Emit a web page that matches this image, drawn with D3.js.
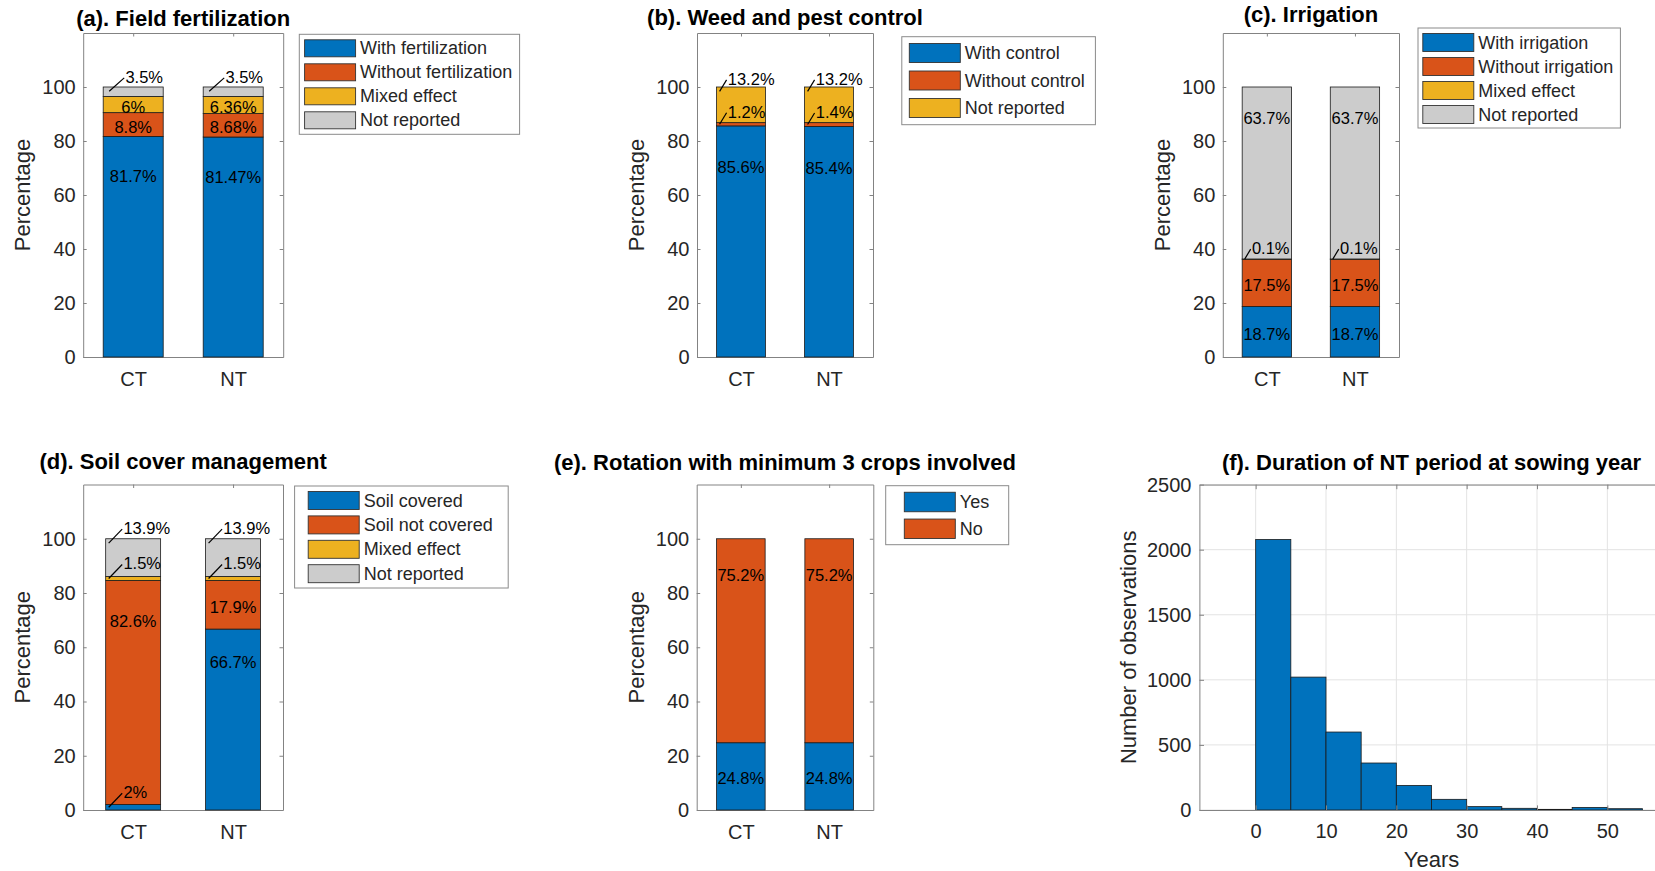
<!DOCTYPE html>
<html><head><meta charset="utf-8">
<script src="https://cdn.jsdelivr.net/npm/d3@7"></script>
<style>
body{margin:0;background:#fff}
svg text{font-family:"Liberation Sans",Arial,Helvetica,sans-serif}
</style>
</head><body><svg id="chart" width="1655" height="871"></svg>
<script>
// ---------------- DATA ----------------
const categories = ["CT", "NT"];
const percentTicks = [0, 20, 40, 60, 80, 100];

const fertSeries = ["With fertilization", "Without fertilization", "Mixed effect", "Not reported"];
const fertCT = [81.7, 8.8, 6, 3.5];
const fertNT = [81.47, 8.68, 6.36, 3.5];

const weedSeries = ["With control", "Without control", "Not reported"];
const weedCT = [85.6, 1.2, 13.2];
const weedNT = [85.4, 1.4, 13.2];

const irrSeries = ["With irrigation", "Without irrigation", "Mixed effect", "Not reported"];
const irrCT = [18.7, 17.5, 0.1, 63.7];
const irrNT = [18.7, 17.5, 0.1, 63.7];

const soilSeries = ["Soil covered", "Soil not covered", "Mixed effect", "Not reported"];
const soilCT = [2, 82.6, 1.5, 13.9];
const soilNT = [66.7, 17.9, 1.5, 13.9];

const rotSeries = ["Yes", "No"];
const rotCT = [24.8, 75.2];
const rotNT = [24.8, 75.2];

const histBinStarts = [0, 5, 10, 15, 20, 25, 30, 35, 40, 45, 50];
const histCounts = [2078, 1021, 599, 361, 189, 82, 26, 13, 5, 20, 10];
const histBinWidth = 5;
const yearTicks = [0, 10, 20, 30, 40, 50];
const countTicks = [0, 500, 1000, 1500, 2000, 2500];

const seriesColors = ["#0072BD", "#D95319", "#EDB120", "#CCCCCC"];

// ---------------- LAYOUT / STYLE ----------------
const AXIS_COLOR = "#838383";
const TEXT_COLOR = "#262626";
const FONT = '"Liberation Sans",Arial,Helvetica,sans-serif';

const panels = [
  {title: "(a). Field fertilization", series: fertSeries, values: [fertCT, fertNT],
   x0: 83.2, x1: 283.2, y0: 33, y1: 357, titleY: 25.5, barW: 0.6,
   legend: {x: 299.3, y: 34.3, w: 220.3, h: 100, first: 14, pitch: 24, sw: 5.3, swH: 17},
   lead: {off: 6, dx: 15, dy: 13.4}},
  {title: "(b). Weed and pest control", series: weedSeries, values: [weedCT, weedNT],
   x0: 697, x1: 873, y0: 33, y1: 357, titleY: 24.8, barW: 0.555,
   legend: {x: 901.8, y: 36.7, w: 193.6, h: 88, first: 16.3, pitch: 27.5, sw: 7.5, swH: 19},
   lead: {off: 3, dx: 7, dy: 11.5}},
  {title: "(c). Irrigation", series: irrSeries, values: [irrCT, irrNT],
   x0: 1222.8, x1: 1399, y0: 33, y1: 357, titleY: 22.2, barW: 0.56,
   legend: {x: 1418, y: 28, w: 202.4, h: 100, first: 14.5, pitch: 24, sw: 4.8, swH: 18},
   lead: {off: 2.5, dx: 6, dy: 10}},
  {title: "(d). Soil cover management", series: soilSeries, values: [soilCT, soilNT],
   x0: 83.2, x1: 283, y0: 484.5, y1: 810, titleY: 469, barW: 0.55,
   legend: {x: 294.6, y: 486, w: 213.6, h: 102, first: 14.5, pitch: 24.4, sw: 13.6, swH: 18},
   lead: {off: 3, dx: 13.5, dy: 14}},
  {title: "(e). Rotation with minimum 3 crops involved", series: rotSeries, values: [rotCT, rotNT],
   x0: 696.7, x1: 873.3, y0: 484.5, y1: 810, titleY: 470.4, barW: 0.55,
   legend: {x: 885.7, y: 485.7, w: 123, h: 59, first: 16.3, pitch: 26.8, sw: 18.6, swH: 19.5},
   lead: {off: 3, dx: 7, dy: 12}}
];

const svg = d3.select("#chart");
svg.append("rect").attr("width", 1655).attr("height", 871).attr("fill", "#fff");

function styleAxis(g, fontSize) {
  g.attr("font-family", FONT).attr("font-size", fontSize);
  g.selectAll("path.domain").attr("stroke", AXIS_COLOR).attr("stroke-width", 1);
  g.selectAll(".tick line").attr("stroke", AXIS_COLOR).attr("stroke-width", 1);
  g.selectAll(".tick text").attr("fill", TEXT_COLOR);
}

function drawBarPanel(p) {
  const g = svg.append("g");
  const x = d3.scaleLinear().domain([0.5, 2.5]).range([p.x0, p.x1]);
  const y = d3.scaleLinear().domain([0, 120]).range([p.y1, p.y0]);
  const tick = 3.5;

  const rows = categories.map((c, i) => {
    const o = {cat: c, idx: i + 1};
    p.series.forEach((s, j) => o[s] = p.values[i][j]);
    return o;
  });
  const stacked = d3.stack().keys(p.series)(rows);

  // axes box
  g.append("g").attr("transform", `translate(0,${p.y1})`)
    .call(d3.axisBottom(x).tickValues([1, 2]).tickFormat((d) => categories[d - 1])
      .tickSizeInner(-tick).tickSizeOuter(0).tickPadding(14.8))
    .call(a => styleAxis(a, 20));
  g.append("g").attr("transform", `translate(0,${p.y0})`)
    .call(d3.axisTop(x).tickValues([1, 2]).tickFormat("").tickSizeInner(-tick).tickSizeOuter(0))
    .call(a => styleAxis(a, 20));
  g.append("g").attr("transform", `translate(${p.x0},0)`)
    .call(d3.axisLeft(y).tickValues(percentTicks).tickSizeInner(-tick).tickSizeOuter(0).tickPadding(7.5))
    .call(a => styleAxis(a, 20));
  g.append("g").attr("transform", `translate(${p.x1},0)`)
    .call(d3.axisRight(y).tickValues(percentTicks).tickFormat("").tickSizeInner(-tick).tickSizeOuter(0))
    .call(a => styleAxis(a, 20));

  // bars
  const bw = x(p.barW) - x(0);
  stacked.forEach((layer, j) => {
    g.selectAll(null).data(layer).join("rect")
      .attr("x", d => x(d.data.idx) - bw / 2)
      .attr("width", bw)
      .attr("y", d => y(d[1]))
      .attr("height", d => y(d[0]) - y(d[1]))
      .attr("fill", seriesColors[j])
      .attr("stroke", "#1a1a1a").attr("stroke-width", 0.8);
  });

  // value labels
  const nL = p.series.length;
  stacked.forEach((layer, j) => {
    layer.forEach(d => {
      const v = d[1] - d[0];
      const txt = String(+v.toFixed(2)) + "%";
      const cx = x(d.data.idx);
      const isTop = j === nL - 1;
      const callout = v < 5 || (isTop && v < 15);
      if (callout) {
        const startV = isTop ? d[1] - 1.6 : (d[0] + d[1]) / 2;
        const sx = cx - bw / 2 + p.lead.off, sy = y(startV);
        const ex = sx + p.lead.dx, ey = sy - p.lead.dy;
        g.append("line").attr("x1", sx).attr("y1", sy).attr("x2", ex).attr("y2", ey)
          .attr("stroke", "#000").attr("stroke-width", 1.2);
        g.append("text").attr("x", ex + 1.2).attr("y", ey + 5)
          .attr("font-size", 16.5).attr("fill", "#000").text(txt);
      } else {
        const yy = v > 30 ? y(d[0] + 0.82 * v) : y((d[0] + d[1]) / 2) + 2;
        g.append("text").attr("x", cx).attr("y", yy)
          .attr("text-anchor", "middle").attr("dominant-baseline", "central")
          .attr("font-size", 16.5).attr("fill", "#000").text(txt);
      }
    });
  });

  // y label
  g.append("text")
    .attr("transform", `translate(${p.x0 - 53},${(p.y0 + p.y1) / 2}) rotate(-90)`)
    .attr("text-anchor", "middle").attr("font-size", 22).attr("fill", TEXT_COLOR)
    .text("Percentage");

  // title
  g.append("text").attr("x", (p.x0 + p.x1) / 2).attr("y", p.titleY)
    .attr("text-anchor", "middle").attr("font-size", 22).attr("font-weight", "bold")
    .attr("fill", "#000").text(p.title);

  // legend
  const L = p.legend;
  const lg = g.append("g");
  lg.append("rect").attr("x", L.x).attr("y", L.y).attr("width", L.w).attr("height", L.h)
    .attr("fill", "#fff").attr("stroke", "#8a8a8a").attr("stroke-width", 1);
  p.series.forEach((s, j) => {
    const cy = L.y + L.first + j * L.pitch;
    lg.append("rect").attr("x", L.x + L.sw).attr("y", cy - L.swH / 2)
      .attr("width", 51).attr("height", L.swH)
      .attr("fill", seriesColors[j]).attr("stroke", "#333").attr("stroke-width", 0.9);
    lg.append("text").attr("x", L.x + L.sw + 55.5).attr("y", cy)
      .attr("dominant-baseline", "central").attr("font-size", 18).attr("fill", TEXT_COLOR)
      .text(s);
  });
}

panels.forEach(drawBarPanel);

// ---------------- (f) histogram ----------------
(function () {
  const p = {x0: 1199.4, x1: 1663.6, y0: 484.6, y1: 810};
  const g = svg.append("g");
  const x = d3.scaleLinear().domain([-8, 58]).range([p.x0, p.x1]);
  const y = d3.scaleLinear().domain([0, 2500]).range([p.y1, p.y0]);
  const tick = 4.6;

  // grid
  g.append("g").selectAll("line").data(yearTicks).join("line")
    .attr("x1", d => x(d)).attr("x2", d => x(d)).attr("y1", p.y0).attr("y2", p.y1)
    .attr("stroke", "#e3e3e3").attr("stroke-width", 1);
  g.append("g").selectAll("line").data(countTicks).join("line")
    .attr("x1", p.x0).attr("x2", p.x1).attr("y1", d => y(d)).attr("y2", d => y(d))
    .attr("stroke", "#e3e3e3").attr("stroke-width", 1);

  // bars
  g.selectAll("rect.hb").data(histCounts).join("rect").attr("class", "hb")
    .attr("x", (d, i) => x(histBinStarts[i]))
    .attr("width", (d, i) => x(histBinStarts[i] + histBinWidth) - x(histBinStarts[i]))
    .attr("y", d => y(d)).attr("height", d => y(0) - y(d))
    .attr("fill", "#0072BD").attr("stroke", "#1a1a1a").attr("stroke-width", 0.8);

  g.append("g").attr("transform", `translate(0,${p.y1})`)
    .call(d3.axisBottom(x).tickValues(yearTicks).tickFormat(d3.format("d"))
      .tickSizeInner(-tick).tickSizeOuter(0).tickPadding(14.1))
    .call(a => styleAxis(a, 20));
  g.append("g").attr("transform", `translate(0,${p.y0})`)
    .call(d3.axisTop(x).tickValues(yearTicks).tickFormat("").tickSizeInner(-tick).tickSizeOuter(0))
    .call(a => styleAxis(a, 20));
  g.append("g").attr("transform", `translate(${p.x0},0)`)
    .call(d3.axisLeft(y).tickValues(countTicks).tickFormat(d3.format("d"))
      .tickSizeInner(-tick).tickSizeOuter(0).tickPadding(8))
    .call(a => styleAxis(a, 20));
  g.append("g").attr("transform", `translate(${p.x1},0)`)
    .call(d3.axisRight(y).tickValues(countTicks).tickFormat("").tickSizeInner(-tick).tickSizeOuter(0))
    .call(a => styleAxis(a, 20));

  g.append("text")
    .attr("transform", `translate(${p.x0 - 63},${(p.y0 + p.y1) / 2}) rotate(-90)`)
    .attr("text-anchor", "middle").attr("font-size", 22).attr("fill", TEXT_COLOR)
    .text("Number of observations");
  g.append("text").attr("x", (p.x0 + p.x1) / 2).attr("y", p.y1 + 56.5)
    .attr("text-anchor", "middle").attr("font-size", 22).attr("fill", TEXT_COLOR).text("Years");
  g.append("text").attr("x", (p.x0 + p.x1) / 2).attr("y", 470.4)
    .attr("text-anchor", "middle").attr("font-size", 22).attr("font-weight", "bold")
    .attr("fill", "#000").text("(f). Duration of NT period at sowing year");
})();
</script>
</body></html>
